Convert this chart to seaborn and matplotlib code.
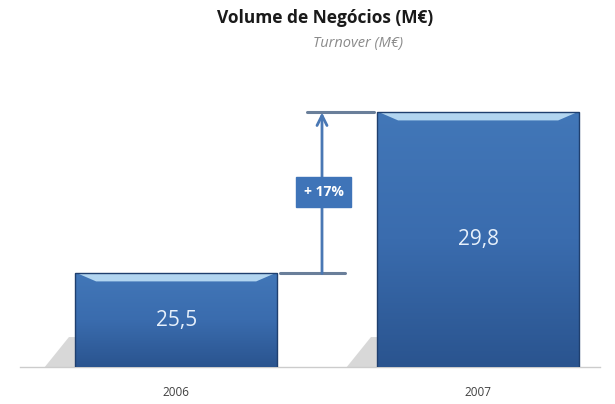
import numpy as np
import matplotlib
matplotlib.use("Agg")
import matplotlib.pyplot as plt
import seaborn as sns
import pandas as pd
from matplotlib.colors import LinearSegmentedColormap
from matplotlib.patches import Polygon

years = ["2006", "2007"]
turnover = [25.5, 29.8]
labels = ["25,5", "29,8"]
title = "Volume de Negócios (M€)"
subtitle = "Turnover (M€)"

sns.set_theme(style="white")
plt.rcParams["font.family"] = ["Open Sans", "DejaVu Sans"]

df = pd.DataFrame({"year": years, "value": turnover})

fig = plt.figure(figsize=(6.15, 4.04), dpi=100)
W, H = 615, 404
ax = fig.add_axes([20 / W, (H - 367) / H, 580 / W, (367 - 90) / H])

sns.barplot(data=df, x="year", y="value", ax=ax, color="#2f5f9e",
            width=0.67, edgecolor="#1f3f6e", linewidth=1.0, zorder=3)

y0 = 23.0
scale = 37.44
ax.set_ylim(y0, y0 + 277 / scale)
ax.set_xlim(-0.517, -0.517 + 580 / 302)

cmap = LinearSegmentedColormap.from_list("bar", ["#2a548f", "#3a6cae", "#4277b8"])
for p, lab in zip(ax.patches, labels):
    x0, w, h = p.get_x(), p.get_width(), p.get_height()
    grad = np.linspace(0, 1, 256).reshape(-1, 1)
    im = ax.imshow(grad, extent=[x0, x0 + w, y0, h], origin="lower",
                   cmap=cmap, aspect="auto", zorder=3.5)
    im.set_clip_path(p)
    # top bevel highlight
    hl_h = 8 / scale
    hl = Polygon([[x0 + 0.01, h - 0.005], [x0 + w - 0.01, h - 0.005],
                  [x0 + w - 0.07, h - hl_h], [x0 + 0.07, h - hl_h]],
                 closed=True, facecolor="#bfe0f7", edgecolor="none", zorder=4, alpha=0.9)
    ax.add_patch(hl)
    # shadow on the left
    sh_h = min(h - y0, 1.6) * 0.5
    sh = Polygon([[x0, y0], [x0 - 0.1, y0], [x0 - 0.02, y0 + sh_h], [x0, y0 + sh_h]],
                 closed=True, facecolor="#cfcfcf", edgecolor="none", zorder=2, alpha=0.8)
    ax.add_patch(sh)
    p.set_zorder(4.5)
    p.set_facecolor("none")
    ax.text(x0 + w / 2, (y0 + h) / 2, lab, ha="center", va="center",
            color="#e6f0fb", fontsize=15, zorder=6)

# growth annotation
ax_x = 0.483
ax.plot([0.344, 0.56], [turnover[0], turnover[0]], color="#6a7f9a", lw=2.2, zorder=5)
ax.plot([0.434, 0.655], [turnover[1], turnover[1]], color="#6a7f9a", lw=2.2, zorder=5)
ax.annotate("", xy=(ax_x, turnover[1]), xytext=(ax_x, turnover[0]),
            arrowprops=dict(arrowstyle="->", color="#4a78b4", lw=2.0,
                            mutation_scale=18, shrinkA=0, shrinkB=0), zorder=5)
pct = round((turnover[1] / turnover[0] - 1) * 100)
ax.text(ax_x + 0.005, 23 + (367 - 192) / scale, f"+ {pct}%", ha="center", va="center",
        color="white", fontsize=10, fontweight="bold", zorder=7,
        bbox=dict(boxstyle="square,pad=0.55", facecolor="#3f74b8", edgecolor="#3f74b8"))

for s in ["top", "right", "left"]:
    ax.spines[s].set_visible(False)
ax.spines["bottom"].set_color("#cccccc")
ax.spines["bottom"].set_linewidth(1.0)
ax.set_yticks([])
ax.set_xlabel("")
ax.set_ylabel("")
ax.tick_params(axis="x", length=0, pad=14, labelsize=8.5, labelcolor="#404040")

fig.text(325 / W, 1 - 18 / H, title, ha="center", va="center",
         fontsize=12.5, fontweight="bold", color="#1a1a1a")
fig.text(358 / W, 1 - 43 / H, subtitle, ha="center", va="center",
         fontsize=10.5, style="italic", color="#8a8a8a")

fig.savefig("out.png", dpi=100)
